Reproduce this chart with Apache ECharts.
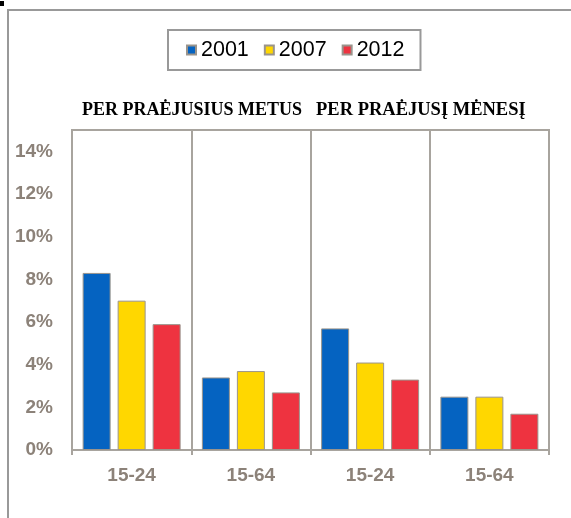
<!DOCTYPE html>
<html><head><meta charset="utf-8">
<script src="https://cdn.jsdelivr.net/npm/echarts@6/dist/echarts.min.js"></script>
<style>html,body{margin:0;padding:0;background:#fff}#c{width:571px;height:518px}</style>
</head><body><div id="c"></div>
<script>
const categories = ['15-24', '15-64', '15-24', '15-64'];
const years = ['2001', '2007', '2012'];
const values2001 = [8.3, 3.4, 5.7, 2.5];
const values2007 = [7.0, 3.7, 4.1, 2.5];
const values2012 = [5.9, 2.7, 3.3, 1.7];
const yTicks = [0, 2, 4, 6, 8, 10, 12, 14];
const headers = ['PER PRAĖJUSIUS METUS', 'PER PRAĖJUSĮ MĖNESĮ'];

const colors = ['#0563C1', '#FFD700', '#EE3340'];
const seriesData = [values2001, values2007, values2012];

const chart = echarts.init(document.getElementById('c'), null, {renderer: 'canvas'});
chart.setOption({
  animation: false,
  backgroundColor: '#fff',
  legend: {
    left: 168, top: 30,
    data: years,
    itemWidth: 9, itemHeight: 9, itemGap: 15,
    padding: [9, 16, 9, 18],
    borderColor: '#999', borderWidth: 2,
    textStyle: {fontFamily: 'Liberation Sans, Arial', fontSize: 21.5, color: '#000'},
    icon: 'rect'
  },
  grid: {left: 72, right: 22, top: 130, bottom: 68, show: true, borderColor: '#A8A49E', borderWidth: 2, containLabel: false},
  xAxis: {
    type: 'category', data: categories,
    axisLine: {lineStyle: {color: '#A8A49E', width: 2}},
    axisTick: {show: true, length: 5, lineStyle: {color: '#A8A49E', width: 2}},
    splitLine: {show: true, lineStyle: {color: '#A8A49E', width: 2}},
    axisLabel: {fontFamily: 'Liberation Sans, Arial', fontWeight: 'bold', fontSize: 19, color: '#8C8279', margin: 16}
  },
  yAxis: {
    type: 'value', min: 0, max: 15, interval: 2,
    axisLine: {show: false}, axisTick: {show: false}, splitLine: {show: false},
    axisLabel: {
      fontFamily: 'Liberation Sans, Arial', fontWeight: 'bold', fontSize: 19, color: '#8C8279', margin: 19,
      formatter: v => yTicks.indexOf(v) >= 0 ? v + '%' : ''
    }
  },
  series: years.map((y, i) => ({
    name: y, type: 'bar', data: seriesData[i],
    barWidth: 28, barGap: '25%',
    itemStyle: {color: colors[i], borderColor: '#9A948C', borderWidth: 1}
  })),
  graphic: [
    {type: 'rect', shape: {x: 8, y: 10, width: 600, height: 600}, style: {fill: 'none', stroke: '#999', lineWidth: 2}, silent: true},
    {type: 'rect', shape: {x: 0, y: 1, width: 4, height: 5}, style: {fill: '#000'}, silent: true},
    {type: 'text', left: 82, top: 101, style: {text: headers[0], font: 'bold 18px "Liberation Serif", "Times New Roman", serif', fill: '#000'}},
    {type: 'text', left: 316, top: 101, style: {text: headers[1], font: 'bold 18.5px "Liberation Serif", "Times New Roman", serif', fill: '#000'}}
  ]
});
</script></body></html>
